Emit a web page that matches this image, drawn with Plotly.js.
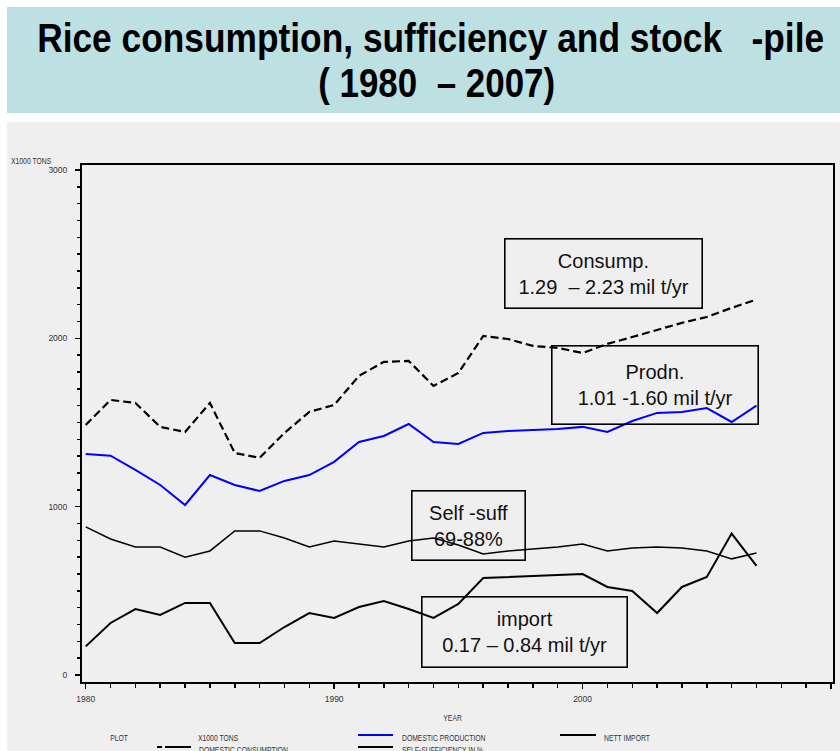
<!DOCTYPE html>
<html>
<head>
<meta charset="utf-8">
<script src="https://cdn.plot.ly/plotly-3.0.1.min.js"></script>
<style>
  html, body { margin: 0; padding: 0; background: #ffffff; }
  #chart { width: 840px; height: 751px; }
</style>
</head>
<body>
<div id="chart"></div>
<script>
// Rice balance, 1980-2007 (x1000 tons; self-sufficiency in %)
const years = [1980, 1981, 1982, 1983, 1984, 1985, 1986, 1987, 1988, 1989,
               1990, 1991, 1992, 1993, 1994, 1995, 1996, 1997, 1998, 1999,
               2000, 2001, 2002, 2003, 2004, 2005, 2006, 2007];

const domesticConsumption = [1485, 1634, 1616, 1474, 1444, 1616, 1319, 1290, 1438, 1563,
                             1604, 1777, 1860, 1866, 1717, 1794, 2014, 1996, 1955, 1943,
                             1913, 1967, 2008, 2050, 2092, 2127, 2181, 2230];

const domesticProduction = [1313, 1303, 1218, 1129, 1010, 1188, 1129, 1093, 1153, 1188,
                            1266, 1384, 1420, 1491, 1384, 1373, 1438, 1450, 1456, 1462,
                            1474, 1444, 1509, 1557, 1563, 1586, 1503, 1600];

const selfSufficiencyPct = [88, 80.8, 76, 76, 70, 73.7, 85.6, 85.6, 81.4, 76,
                            79.6, 77.8, 76, 79.6, 81.4, 77.2, 71.9, 73.7, 74.9, 76,
                            77.8, 73.7, 75.5, 76, 75.5, 73.7, 69, 72.5];

const nettImport = [170, 309, 392, 357, 428, 428, 190, 190, 285, 368,
                    339, 404, 440, 392, 339, 422, 576, 582, 588, 594,
                    600, 523, 499, 368, 523, 582, 840, 648];

const titleLines = ['Rice consumption, sufficiency and stock\u00a0\u00a0 -pile',
                    '(\u00a01980\u00a0\u00a0\u2013\u00a02007)'];
const unitLabel = 'X1000 TONS';
const xAxisLabel = 'YEAR';
const legendHeading = 'PLOT';
const seriesNames = ['DOMESTIC CONSUMPTION', 'DOMESTIC PRODUCTION',
                     'SELF-SUFFICIENCY IN %', 'NETT IMPORT'];
const calloutTexts = [
  ['Consump.', '1.29\u00a0\u00a0\u2013 2.23 mil t/yr'],
  ['Prodn.', '1.01 -1.60 mil t/yr'],
  ['Self -suff', '69-88%'],
  ['import', '0.17 \u2013 0.84 mil t/yr']
];

// page geometry (pixels)
const W = 840, H = 751;
const M = { l: 82, r: 7, t: 165, b: 69 };
const PW = W - M.l - M.r, PH = H - M.t - M.b;
const px = x => (x - M.l) / PW;           // page x -> paper x
const py = y => (H - M.b - y) / PH;       // page y -> paper y

const sans = 'Liberation Sans, Arial, sans-serif';

const pctScale = 10; // self-sufficiency % drawn on the thousand-ton axis

const traces = [
  { x: years, y: domesticConsumption, name: seriesNames[0], mode: 'lines',
    line: { color: '#000000', width: 2.2, dash: '8px,4px' } },
  { x: years, y: domesticProduction, name: seriesNames[1], mode: 'lines',
    line: { color: '#0000ff', width: 2 } },
  { x: years, y: selfSufficiencyPct.map(v => v * pctScale), name: seriesNames[2], mode: 'lines',
    line: { color: '#000000', width: 1.5 } },
  { x: years, y: nettImport, name: seriesNames[3], mode: 'lines',
    line: { color: '#000000', width: 2 } }
];

const shapes = [
  // title band
  { type: 'rect', xref: 'paper', yref: 'paper', layer: 'below',
    x0: px(7), x1: px(840), y0: py(7), y1: py(113),
    fillcolor: '#bde0e3', line: { width: 0 } },
  // grey panel
  { type: 'rect', xref: 'paper', yref: 'paper', layer: 'below',
    x0: px(7), x1: px(840), y0: py(122), y1: py(751),
    fillcolor: '#efefef', line: { width: 0 } }
];

// legend keys
const keyLine = (x0, x1, y, color, width, dash) => ({
  type: 'line', xref: 'paper', yref: 'paper',
  x0: px(x0), x1: px(x1), y0: py(y), y1: py(y),
  line: { color: color, width: width, dash: dash || 'solid' }
});
shapes.push(keyLine(157, 191, 747, '#000000', 2.2, '5px,3px,30px,3px'));
shapes.push(keyLine(358, 393, 735, '#0000ff', 2));
shapes.push(keyLine(358, 393, 747, '#000000', 2));
shapes.push(keyLine(560, 596, 735, '#000000', 2));

const smallText = (text, x, y, anchor) => ({
  text: text, xref: 'paper', yref: 'paper', x: px(x), y: py(y),
  xanchor: anchor || 'left', align: anchor === 'center' ? 'center' : 'left',
  yanchor: 'middle', showarrow: false,
  font: { family: sans, size: 8.5, color: '#333333' }
});

const callout = (lines, cx, cy, w, h) => ({
  text: lines.join('<br>'), xref: 'paper', yref: 'paper', x: px(cx), y: py(cy),
  xanchor: 'center', yanchor: 'middle', showarrow: false,
  width: w, height: h, borderpad: 0,
  bordercolor: '#000000', borderwidth: 1.6, bgcolor: 'rgba(0,0,0,0)',
  font: { family: sans, size: 20, color: '#111111' }
});

const titleFont = { family: sans, size: 40, weight: 700, color: '#000000' };

const annotations = [
  { text: titleLines[0], xref: 'paper', yref: 'paper', x: px(430.5), y: py(38),
    xanchor: 'center', yanchor: 'middle', showarrow: false, font: titleFont },
  { text: titleLines[1], xref: 'paper', yref: 'paper', x: px(436.5), y: py(83),
    xanchor: 'center', yanchor: 'middle', showarrow: false, font: titleFont },
  smallText(unitLabel, 9, 161),
  smallText(xAxisLabel, 452, 718, 'center'),
  smallText(legendHeading, 119, 738, 'center'),
  smallText(unitLabel, 196, 738),
  smallText(seriesNames[0], 197, 750),
  smallText(seriesNames[1], 400, 738),
  smallText(seriesNames[2], 400, 750),
  smallText(seriesNames[3], 602, 738),
  callout(calloutTexts[0], 603, 273, 196, 68),
  callout(calloutTexts[1], 654.5, 384.5, 205, 77),
  callout(calloutTexts[2], 468, 525, 112, 68),
  callout(calloutTexts[3], 524, 631.5, 204, 69)
];

// condensed (narrow-face) rendering: [annotation index, target width px or null, factor]
const condensed = [
  [0, 787, null], [1, 237, null],
  [2, null, 0.8], [3, null, 0.8], [4, null, 0.8], [5, null, 0.8],
  [6, null, 0.8], [7, null, 0.8], [8, null, 0.8], [9, null, 0.8]
];

const axisCommon = {
  showline: true, linecolor: '#000000', linewidth: 2, mirror: true,
  showgrid: false, zeroline: false,
  ticks: 'outside', ticklen: 5, tickwidth: 1.5, tickcolor: '#000000',
  tickfont: { family: sans, size: 8.5, color: '#333333' }
};

const layout = {
  width: W, height: H,
  margin: M,
  paper_bgcolor: '#ffffff',
  plot_bgcolor: '#efefef',
  showlegend: false,
  xaxis: Object.assign({}, axisCommon, {
    range: [1979.851, 2010.08], tick0: 1980, dtick: 10,
    ticklabelstandoff: 3,
    minor: { tick0: 1980, dtick: 1, ticks: 'outside', ticklen: 4, tickwidth: 1.5,
             tickcolor: '#000000', showgrid: false }
  }),
  yaxis: Object.assign({}, axisCommon, {
    range: [-41.6, 3029.7], tick0: 0, dtick: 1000,
    ticklabelstandoff: 6,
    minor: { tick0: 0, dtick: 100, ticks: 'outside', ticklen: 3, tickwidth: 1.5,
             tickcolor: '#000000', showgrid: false }
  }),
  shapes: shapes,
  annotations: annotations
};

Plotly.newPlot('chart', traces, layout, { displayModeBar: false, staticPlot: true })
  .then(gd => {
    condensed.forEach(([idx, target, factor]) => {
      const t = gd.querySelector('.annotation[data-index="' + idx + '"] text.annotation-text');
      if (!t) return;
      const w = t.getComputedTextLength();
      const len = target || w * factor;
      t.setAttribute('textLength', len.toFixed(1));
      t.setAttribute('lengthAdjust', 'spacingAndGlyphs');
    });
  });
</script>
</body>
</html>
